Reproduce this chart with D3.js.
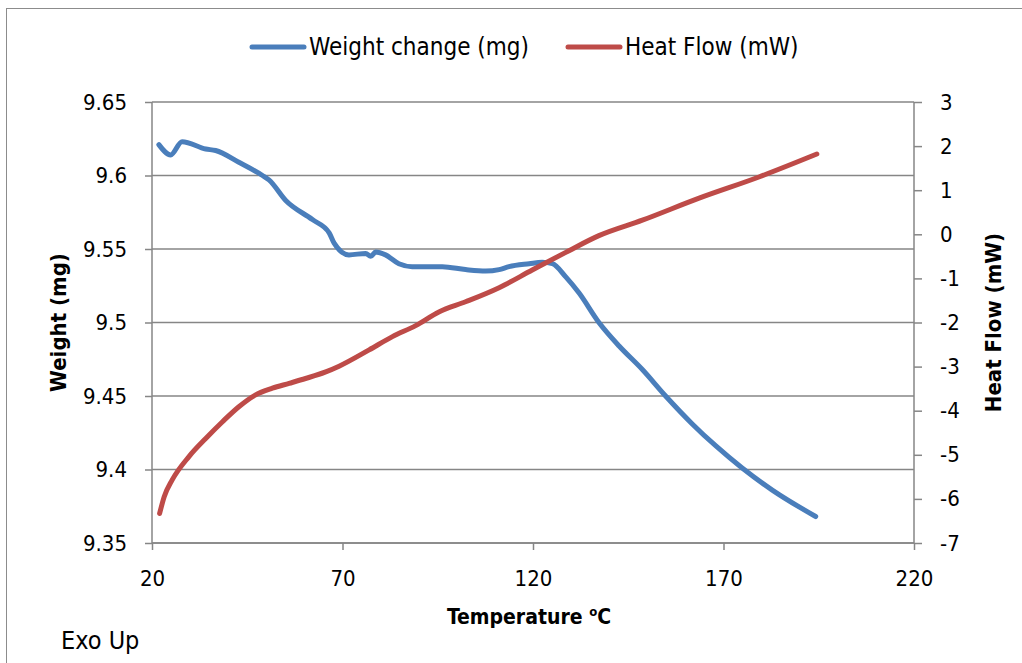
<!DOCTYPE html>
<html>
<head>
<meta charset="utf-8">
<script src="https://cdn.jsdelivr.net/npm/d3@7"></script>
<style>
  html, body { margin: 0; padding: 0; background: #fff; }
  svg { display: block; }
  text { font-family: "DejaVu Sans Condensed", "Open Sans", sans-serif; fill: #000; }
</style>
</head>
<body>
<svg id="chart" width="1022" height="663"></svg>
<script>
// Thermogravimetric run: sample weight and heat flow against temperature
const weightTemp = [21.8, 24.9, 27.9, 34.1, 36.7, 42.8, 49.0, 50.7, 55.1, 62.1, 66.5, 67.8, 71.7, 76.1, 77.4, 78.7, 81.3, 84.8,
  88.3, 91.8, 96.2, 102.3, 107.6, 111.1, 113.7, 119.0, 122.4, 125.1, 128.6, 132.1, 137.3, 142.6, 148.7, 154.8, 161.8, 168.0, 174.9, 182.8, 194.2];
const weightMg = [9.621, 9.614, 9.623, 9.618, 9.617, 9.609, 9.600, 9.597, 9.583, 9.570, 9.561, 9.554, 9.546, 9.547, 9.545, 9.548, 9.546, 9.540,
  9.538, 9.538, 9.538, 9.536, 9.535, 9.536, 9.538, 9.540, 9.541, 9.540, 9.531, 9.520, 9.500, 9.484, 9.468, 9.450, 9.431, 9.416, 9.401, 9.386, 9.368];

const heatTemp = [22.0, 23.2, 25.3, 29.7, 34.1, 38.5, 42.8, 47.2, 51.6, 56.0, 60.3, 65.6, 69.1, 77.0, 83.1, 89.2, 95.3, 102.3,
  111.1, 119.8, 128.6, 137.3, 148.7, 163.6, 179.3, 194.5];
const heatMw = [-6.33, -5.95, -5.57, -5.04, -4.63, -4.25, -3.91, -3.64, -3.49, -3.38, -3.27, -3.12, -2.99, -2.62, -2.32, -2.07, -1.76, -1.53,
  -1.21, -0.81, -0.41, -0.03, 0.32, 0.82, 1.30, 1.82];

const xTicks = [20, 70, 120, 170, 220];
const leftTicks = [9.35, 9.4, 9.45, 9.5, 9.55, 9.6, 9.65];
const rightTicks = [-7, -6, -5, -4, -3, -2, -1, 0, 1, 2, 3];

const seriesNames = ["Weight change (mg)", "Heat Flow (mW)"];
const seriesColors = ["#4a7ebb", "#be4b48"];

const svg = d3.select("#chart");
const W = 1022, H = 663;
const m = { left: 152, right: 1022 - 914, top: 102, bottom: 663 - 543 };

// outer chart frame
svg.append("rect").attr("x", 6.5).attr("y", 8.5).attr("width", W + 10).attr("height", H + 10)
  .attr("fill", "none").attr("stroke", "#8c8c8c").attr("stroke-width", 1);

const x = d3.scaleLinear().domain([20, 220]).range([m.left, W - m.right]);
const yL = d3.scaleLinear().domain([9.35, 9.65]).range([H - m.bottom, m.top]);
const yR = d3.scaleLinear().domain([-7, 3]).range([H - m.bottom, m.top]);

const gridColor = "#868686";

// horizontal gridlines
svg.append("g").selectAll("line").data(leftTicks).join("line")
  .attr("x1", m.left).attr("x2", W - m.right)
  .attr("y1", d => yL(d)).attr("y2", d => yL(d))
  .attr("stroke", gridColor).attr("stroke-width", 1.5);

const fs = 22;

// left axis
const axL = svg.append("g").attr("transform", `translate(${m.left},0)`)
  .call(d3.axisLeft(yL).tickValues(leftTicks).tickFormat(d3.format("")).tickSize(7).tickPadding(18));
// right axis
const axR = svg.append("g").attr("transform", `translate(${W - m.right},0)`)
  .call(d3.axisRight(yR).tickValues(rightTicks).tickFormat(d => d < 0 ? "-" + Math.abs(d) : d).tickSize(8).tickPadding(18));
// bottom axis
const axB = svg.append("g").attr("transform", `translate(0,${H - m.bottom})`)
  .call(d3.axisBottom(x).tickValues(xTicks).tickSize(7).tickPadding(20));

[axL, axR, axB].forEach(g => {
  g.select(".domain").attr("stroke", gridColor).attr("stroke-width", 1.5);
  g.selectAll(".tick line").attr("stroke", gridColor).attr("stroke-width", 1.5);
  g.selectAll("text").attr("font-size", fs).attr("fill", "#000")
    .style("font-family", '"DejaVu Sans Condensed", sans-serif');
});
axL.select(".domain").attr("d", `M0,${yL(9.35)}V${yL(9.65)}`);
axR.select(".domain").attr("d", `M0,${yR(-7)}V${yR(3)}`);
axB.select(".domain").attr("d", `M${x(20)},0H${x(220)}`);

// series lines
const lineW = d3.line().x((d, i) => x(weightTemp[i])).y(d => yL(d)).curve(d3.curveMonotoneX);
const lineH = d3.line().x((d, i) => x(heatTemp[i])).y(d => yR(d)).curve(d3.curveMonotoneX);

svg.append("path").attr("d", lineW(weightMg)).attr("fill", "none")
  .attr("stroke", seriesColors[0]).attr("stroke-width", 5).attr("stroke-linejoin", "round").attr("stroke-linecap", "round");
svg.append("path").attr("d", lineH(heatMw)).attr("fill", "none")
  .attr("stroke", seriesColors[1]).attr("stroke-width", 5).attr("stroke-linejoin", "round").attr("stroke-linecap", "round");

// axis titles
svg.append("text").attr("x", 529).attr("y", 624).attr("text-anchor", "middle")
  .attr("font-size", 21).attr("font-weight", "bold")
  .call(t => {
    t.append("tspan").text("Temperature ");
    t.append("tspan").attr("font-size", 13).attr("dy", -8).text("o");
    t.append("tspan").attr("dy", 8).text("C");
  });

svg.append("text").attr("transform", `translate(66,${(m.top + H - m.bottom) / 2}) rotate(-90)`)
  .attr("text-anchor", "middle").attr("font-size", 22).attr("font-weight", "bold").text("Weight (mg)");

svg.append("text").attr("transform", `translate(1001,${(m.top + H - m.bottom) / 2}) rotate(-90)`)
  .attr("text-anchor", "middle").attr("font-size", 22).attr("font-weight", "bold").text("Heat Flow (mW)");

svg.append("text").attr("x", 61).attr("y", 649).attr("font-size", 25).text("Exo Up");

// legend
const legendX = [252, 568];
seriesNames.forEach((name, i) => {
  const g = svg.append("g").attr("transform", `translate(${legendX[i]},47)`);
  g.append("line").attr("x1", 0).attr("x2", 52).attr("y1", 0).attr("y2", 0)
    .attr("stroke", seriesColors[i]).attr("stroke-width", 5).attr("stroke-linecap", "round");
  g.append("text").attr("x", 57).attr("y", 8).attr("font-size", 24).text(name);
});
</script>
</body>
</html>
